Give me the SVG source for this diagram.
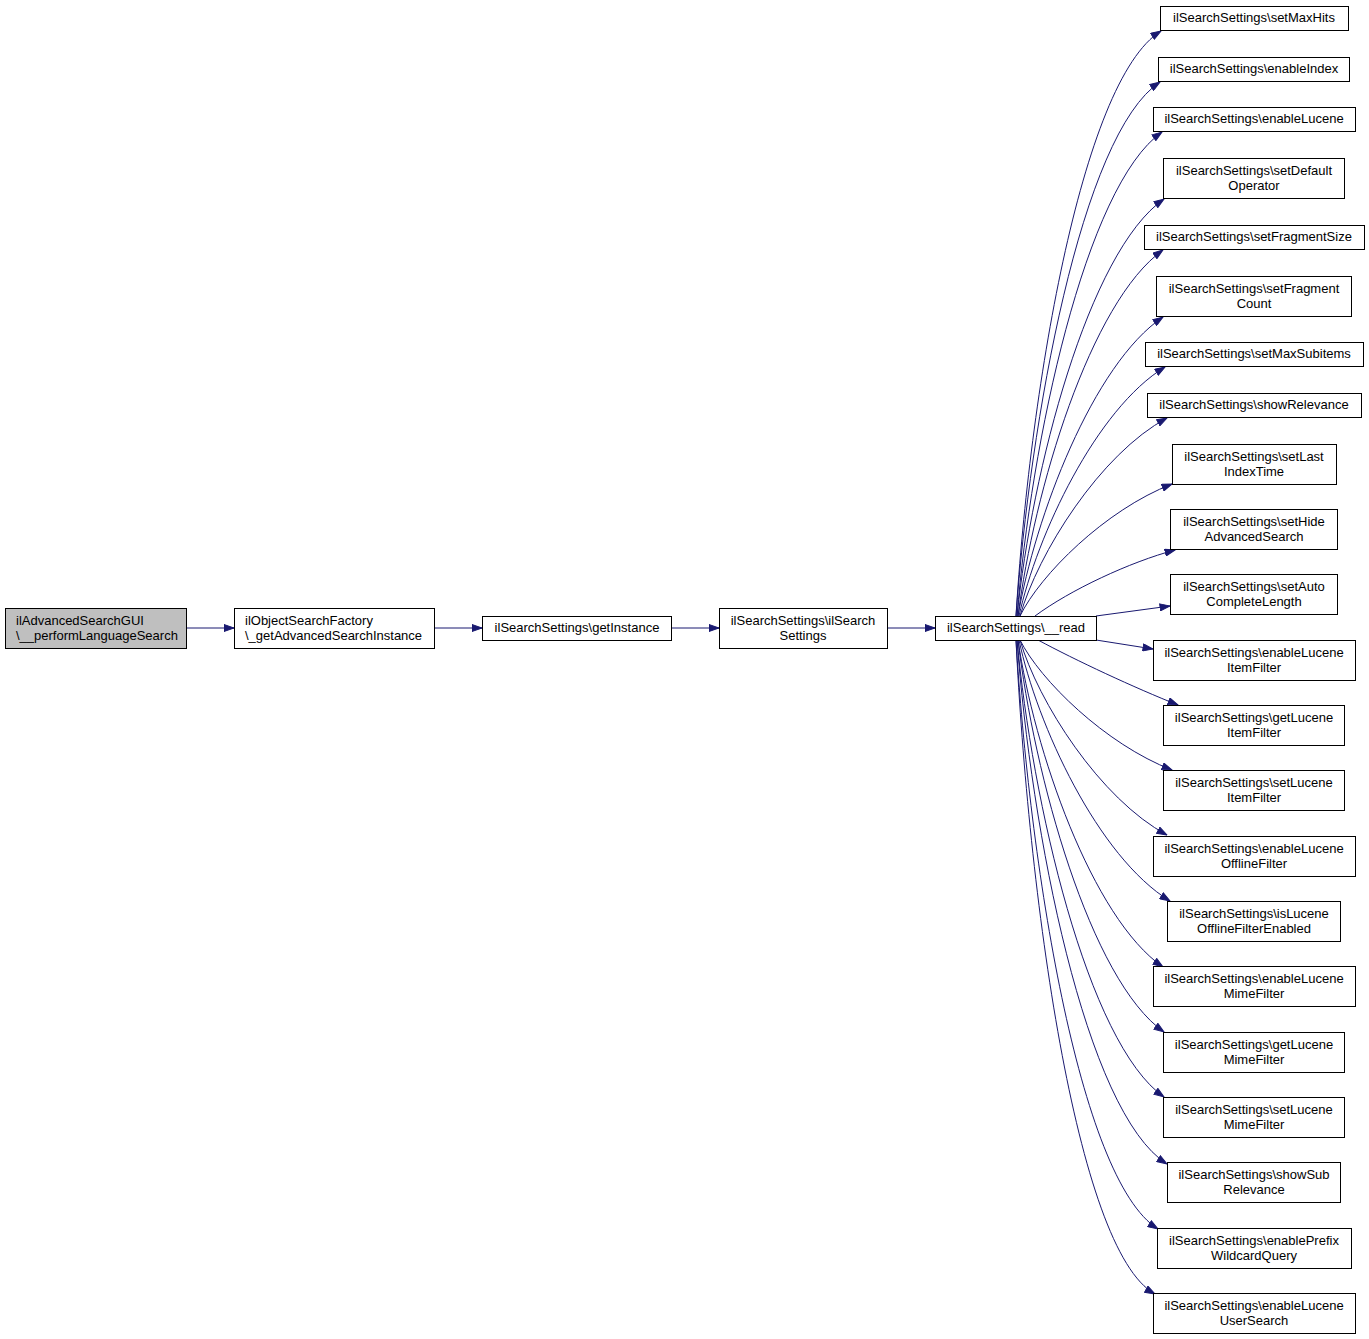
<svg xmlns="http://www.w3.org/2000/svg" width="1369" height="1339" viewBox="0 0 1369 1339">
<style>
.n rect{fill:#ffffff;stroke:#000000;stroke-width:1}
.n text{font-family:"Liberation Sans",Arial,Helvetica,sans-serif;font-size:13px;fill:#000000;text-anchor:middle}
.n text.l{text-anchor:start}
#edges path{fill:none;stroke:#191970;stroke-width:1;marker-end:url(#ah)}
</style>
<defs>
<marker id="ah" viewBox="0 0 11 8" refX="10.5" refY="4" markerWidth="11" markerHeight="8" orient="auto" markerUnits="userSpaceOnUse">
<path d="M0.5,0.5 L10.5,4 L0.5,7.5 z" fill="#191970" stroke="#191970" stroke-width="1"/>
</marker>
</defs>
<rect width="1369" height="1339" fill="#ffffff"/>
<g id="edges">
<path d="M186,628 L234,628"/>
<path d="M434,628 L482,628"/>
<path d="M671,628 L719,628"/>
<path d="M887,628 L935,628"/>
<path d="M1016,616 C1029,400 1080,81 1161,31"/>
<path d="M1016,616 C1030,422 1081,134 1160,82"/>
<path d="M1017,616 C1031,443 1085,186 1162,132"/>
<path d="M1017,616 C1032,471 1088,252 1164,199"/>
<path d="M1018,616 C1034,491 1090,302 1163,250"/>
<path d="M1018,616 C1035,517 1093,364 1163,317"/>
<path d="M1019,616 C1037,535 1096,409 1165,367"/>
<path d="M1020,616 C1038,553 1100,454 1167,418"/>
<path d="M1020,616 C1040,575 1105,510 1172,484"/>
<path d="M1035,616 C1070,590 1130,562 1175,550"/>
<path d="M1096,616 L1170,606"/>
<path d="M1096,640 L1153,649"/>
<path d="M1038,640 C1075,660 1135,688 1178,705"/>
<path d="M1020,640 C1040,680 1105,744 1172,770"/>
<path d="M1020,640 C1038,702 1100,799 1167,835"/>
<path d="M1019,640 C1037,725 1098,857 1170,901"/>
<path d="M1018,640 C1034,750 1092,918 1163,967"/>
<path d="M1018,640 C1034,775 1090,980 1164,1032"/>
<path d="M1017,640 C1032,801 1087,1043 1164,1097"/>
<path d="M1017,640 C1031,830 1085,1112 1167,1164"/>
<path d="M1016,640 C1029,858 1078,1179 1158,1229"/>
<path d="M1016,640 C1028,888 1075,1250 1155,1294"/>
</g>
<g id="node-performLanguageSearch" class="n"><rect x="5.5" y="608.5" width="181" height="40" style="fill:#bfbfbf"/><text class="l" x="16" y="625">ilAdvancedSearchGUI</text><text class="l" x="16" y="639.5">\__performLanguageSearch</text></g>
<g id="node-getAdvancedSearchInstance" class="n"><rect x="234.5" y="608.5" width="200" height="40"/><text class="l" x="245" y="625">ilObjectSearchFactory</text><text class="l" x="245" y="639.5">\_getAdvancedSearchInstance</text></g>
<g id="node-getInstance" class="n"><rect x="482.5" y="616.5" width="189" height="24"/><text x="577" y="632">ilSearchSettings\getInstance</text></g>
<g id="node-ilSearchSettings" class="n"><rect x="719.5" y="608.5" width="168" height="40"/><text x="803" y="625">ilSearchSettings\ilSearch</text><text x="803" y="639.5">Settings</text></g>
<g id="node-read" class="n"><rect x="935.5" y="616.5" width="161" height="24"/><text x="1016" y="632">ilSearchSettings\__read</text></g>
<g id="node-setMaxHits" class="n"><rect x="1160.5" y="6.5" width="188" height="24"/><text x="1254" y="22">ilSearchSettings\setMaxHits</text></g>
<g id="node-enableIndex" class="n"><rect x="1158.5" y="57.5" width="191" height="24"/><text x="1254" y="73">ilSearchSettings\enableIndex</text></g>
<g id="node-enableLucene" class="n"><rect x="1153.5" y="107.5" width="202" height="24"/><text x="1254" y="123">ilSearchSettings\enableLucene</text></g>
<g id="node-setDefaultOperator" class="n"><rect x="1163.5" y="158.5" width="181" height="40"/><text x="1254" y="175">ilSearchSettings\setDefault</text><text x="1254" y="189.5">Operator</text></g>
<g id="node-setFragmentSize" class="n"><rect x="1144.5" y="225.5" width="220" height="24"/><text x="1254" y="241">ilSearchSettings\setFragmentSize</text></g>
<g id="node-setFragmentCount" class="n"><rect x="1156.5" y="276.5" width="195" height="40"/><text x="1254" y="293">ilSearchSettings\setFragment</text><text x="1254" y="307.5">Count</text></g>
<g id="node-setMaxSubitems" class="n"><rect x="1145.5" y="342.5" width="218" height="24"/><text x="1254" y="358">ilSearchSettings\setMaxSubitems</text></g>
<g id="node-showRelevance" class="n"><rect x="1147.5" y="393.5" width="214" height="24"/><text x="1254" y="409">ilSearchSettings\showRelevance</text></g>
<g id="node-setLastIndexTime" class="n"><rect x="1172.5" y="444.5" width="164" height="40"/><text x="1254" y="461">ilSearchSettings\setLast</text><text x="1254" y="475.5">IndexTime</text></g>
<g id="node-setHideAdvancedSearch" class="n"><rect x="1170.5" y="509.5" width="167" height="40"/><text x="1254" y="526">ilSearchSettings\setHide</text><text x="1254" y="540.5">AdvancedSearch</text></g>
<g id="node-setAutoCompleteLength" class="n"><rect x="1170.5" y="574.5" width="167" height="40"/><text x="1254" y="591">ilSearchSettings\setAuto</text><text x="1254" y="605.5">CompleteLength</text></g>
<g id="node-enableLuceneItemFilter" class="n"><rect x="1153.5" y="640.5" width="202" height="40"/><text x="1254" y="657">ilSearchSettings\enableLucene</text><text x="1254" y="671.5">ItemFilter</text></g>
<g id="node-getLuceneItemFilter" class="n"><rect x="1163.5" y="705.5" width="181" height="40"/><text x="1254" y="722">ilSearchSettings\getLucene</text><text x="1254" y="736.5">ItemFilter</text></g>
<g id="node-setLuceneItemFilter" class="n"><rect x="1163.5" y="770.5" width="181" height="40"/><text x="1254" y="787">ilSearchSettings\setLucene</text><text x="1254" y="801.5">ItemFilter</text></g>
<g id="node-enableLuceneOfflineFilter" class="n"><rect x="1153.5" y="836.5" width="202" height="40"/><text x="1254" y="853">ilSearchSettings\enableLucene</text><text x="1254" y="867.5">OfflineFilter</text></g>
<g id="node-isLuceneOfflineFilterEnabled" class="n"><rect x="1167.5" y="901.5" width="173" height="40"/><text x="1254" y="918">ilSearchSettings\isLucene</text><text x="1254" y="932.5">OfflineFilterEnabled</text></g>
<g id="node-enableLuceneMimeFilter" class="n"><rect x="1153.5" y="966.5" width="202" height="40"/><text x="1254" y="983">ilSearchSettings\enableLucene</text><text x="1254" y="997.5">MimeFilter</text></g>
<g id="node-getLuceneMimeFilter" class="n"><rect x="1163.5" y="1032.5" width="181" height="40"/><text x="1254" y="1049">ilSearchSettings\getLucene</text><text x="1254" y="1063.5">MimeFilter</text></g>
<g id="node-setLuceneMimeFilter" class="n"><rect x="1163.5" y="1097.5" width="181" height="40"/><text x="1254" y="1114">ilSearchSettings\setLucene</text><text x="1254" y="1128.5">MimeFilter</text></g>
<g id="node-showSubRelevance" class="n"><rect x="1167.5" y="1162.5" width="173" height="40"/><text x="1254" y="1179">ilSearchSettings\showSub</text><text x="1254" y="1193.5">Relevance</text></g>
<g id="node-enablePrefixWildcardQuery" class="n"><rect x="1157.5" y="1228.5" width="194" height="40"/><text x="1254" y="1245">ilSearchSettings\enablePrefix</text><text x="1254" y="1259.5">WildcardQuery</text></g>
<g id="node-enableLuceneUserSearch" class="n"><rect x="1153.5" y="1293.5" width="202" height="40"/><text x="1254" y="1310">ilSearchSettings\enableLucene</text><text x="1254" y="1324.5">UserSearch</text></g>
</svg>
